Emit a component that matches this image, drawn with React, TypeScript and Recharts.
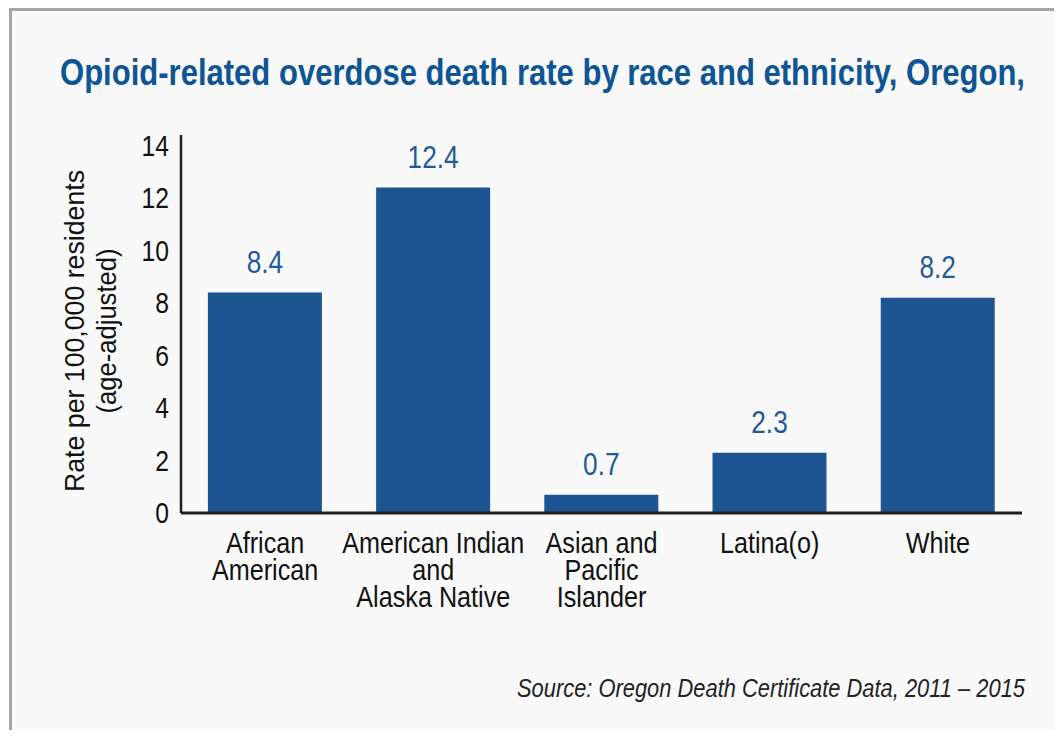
import { BarChart, Bar, XAxis, YAxis, LabelList } from "recharts";

const categories = [
  ["African", "American"],
  ["American Indian", "and", "Alaska Native"],
  ["Asian and", "Pacific", "Islander"],
  ["Latina(o)"],
  ["White"],
];
const rates = [8.4, 12.4, 0.7, 2.3, 8.2];
const yTicks = [0, 2, 4, 6, 8, 10, 12, 14];

const FONT = '"Liberation Sans", Arial, sans-serif';
const BLUE = "#1c5592";

const data = categories.map((lines, i) => ({ name: lines.join(" "), lines, rate: rates[i] }));

// condensed look: Liberation Sans squeezed horizontally
function CategoryTick(props: any) {
  const { x, y, payload } = props;
  const item = data.find((d) => d.name === payload.value);
  const lines = item ? item.lines : [payload.value];
  return (
    <g transform={`translate(${x}, ${y}) scale(0.84, 1)`}>
      <text x={0} y={32} textAnchor="middle" fontFamily={FONT} fontSize={30} fill="#111">
        {lines.map((l, i) => (
          <tspan key={i} x={0} dy={i === 0 ? 0 : 27}>
            {l}
          </tspan>
        ))}
      </text>
    </g>
  );
}

function RateTick(props: any) {
  const { x, y, payload } = props;
  return (
    <g transform={`translate(${x - 4}, ${y}) scale(0.85, 1)`}>
      <text x={0} y={0} dy={10} textAnchor="end" fontFamily={FONT} fontSize={29} fill="#111">
        {payload.value}
      </text>
    </g>
  );
}

function ValueLabel(props: any) {
  const { x, y, width, value } = props;
  const cx = x + width / 2;
  return (
    <g transform={`translate(${cx}, ${y - 20}) scale(0.82, 1)`}>
      <text x={0} y={0} textAnchor="middle" fontFamily={FONT} fontSize={32} fill="#1f5a9a">
        {Number(value).toFixed(1)}
      </text>
    </g>
  );
}

export default function App() {
  return (
    <div style={{ margin: -8, width: 1062, height: 738, position: "relative", background: "#fff", overflow: "hidden" }}>
      <div
        style={{
          position: "absolute",
          left: 9,
          top: 8,
          width: 1100,
          height: 800,
          border: "3px solid #a6a6a6",
          background: "#f9f9f9",
        }}
      />
      <div style={{ position: "absolute", left: 0, top: 0 }}>
        <BarChart
          width={1062}
          height={738}
          data={data}
          margin={{ top: 135, right: 40, bottom: 125, left: 101 }}
          barCategoryGap="16%"
        >
          <YAxis
            domain={[0, 14.4]}
            ticks={yTicks}
            width={80}
            tickLine={false}
            axisLine={{ stroke: "#231f20", strokeWidth: 2.5 }}
            tick={<RateTick />}
            interval={0}
          />
          <XAxis
            dataKey="name"
            tickLine={false}
            axisLine={{ stroke: "#231f20", strokeWidth: 3 }}
            tick={<CategoryTick />}
            interval={0}
            height={100}
          />
          <Bar dataKey="rate" fill={BLUE} isAnimationActive={false}>
            <LabelList dataKey="rate" content={<ValueLabel />} />
          </Bar>
        </BarChart>
      </div>
      <svg width={1062} height={738} style={{ position: "absolute", left: 0, top: 0, pointerEvents: "none" }}>
        <text x={60} y={85} fontFamily={FONT} fontWeight="bold" fontSize={37} fill="#0d5595" textLength={965} lengthAdjust="spacingAndGlyphs">
          Opioid-related overdose death rate by race and ethnicity, Oregon,
        </text>
        <g transform="translate(0, 331) rotate(-90)">
          <text x={0} y={84} textAnchor="middle" fontFamily={FONT} fontSize={28} fill="#111" textLength={322} lengthAdjust="spacingAndGlyphs">
            Rate per 100,000 residents
          </text>
          <text x={0} y={116} textAnchor="middle" fontFamily={FONT} fontSize={28} fill="#111" textLength={165} lengthAdjust="spacingAndGlyphs">
            (age-adjusted)
          </text>
        </g>
        <text x={1025} y={697} textAnchor="end" fontFamily={FONT} fontStyle="italic" fontSize={25} fill="#222" textLength={508} lengthAdjust="spacingAndGlyphs">
          Source: Oregon Death Certificate Data, 2011 – 2015
        </text>
      </svg>
    </div>
  );
}
